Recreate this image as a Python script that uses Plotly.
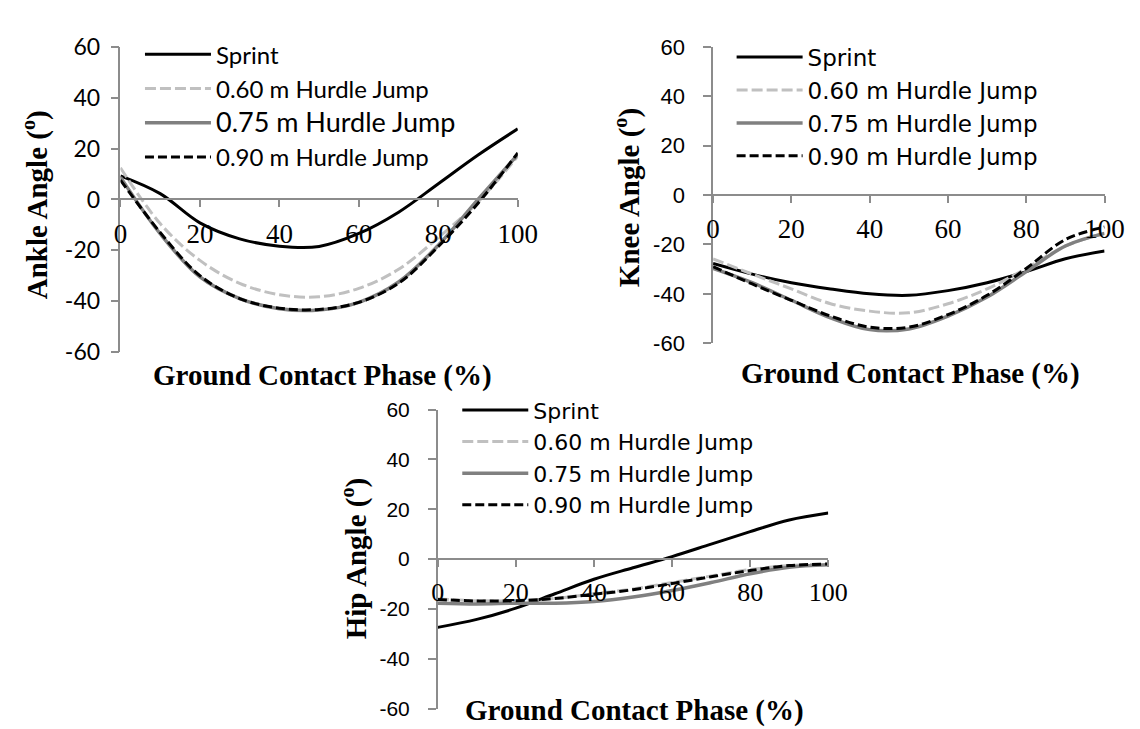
import plotly.graph_objects as go

W, H = 1140, 729

phase = [0, 10, 20, 30, 40, 50, 60, 70, 80, 90, 100]
series_names = ["Sprint", "0.60 m Hurdle Jump", "0.75 m Hurdle Jump", "0.90 m Hurdle Jump"]

ankle_sprint = [9.3, 2.3, -9.2, -15.5, -18.4, -18.5, -13.4, -5, 6.2, 17.5, 27.8]
ankle_h060 = [12.5, -9.5, -24, -33, -37.5, -38.3, -35, -27.5, -15, -1, 17]
ankle_h075 = [8.8, -13.5, -30.5, -39, -43, -43.5, -40.5, -32.5, -18, 0, 17.7]
ankle_h090 = [7.6, -13, -30, -39, -42.8, -43.3, -40.5, -33, -18.5, -1.5, 18.3]

knee_sprint = [-27.7, -32, -35.5, -38, -40, -40.6, -38.7, -35.5, -31, -25.8, -22.6]
knee_h060 = [-25.8, -32, -38, -44, -47, -47.7, -44, -38, -29.7, -20.6, -15.5]
knee_h075 = [-29.7, -35.5, -42.6, -49.7, -54.5, -54.2, -49, -41.3, -31, -20.6, -15.5]
knee_h090 = [-29, -36, -42.6, -49, -53.5, -53.5, -48.4, -40.6, -29.7, -18, -12.9]

hip_sprint = [-27.4, -24.2, -19.7, -13.9, -8.1, -3.5, 1, 6, 11, 15.7, 18.5]
hip_h060 = [-16, -16.7, -16.7, -15.8, -13.9, -12, -9.4, -6.8, -4.2, -2.6, -2]
hip_h075 = [-17.7, -18, -17.7, -17.7, -17, -15.2, -12.6, -9.4, -5.9, -3.3, -2.3]
hip_h090 = [-16.2, -16.8, -16.7, -15.8, -14.1, -12.3, -9.8, -7.1, -4.6, -2.6, -2]

y_ticks = [-60, -40, -20, 0, 20, 40, 60]
y_tick_text = ["-60", "-40", "-20", "0", "20", "40", "60"]
x_ticks = [0, 20, 40, 60, 80, 100]

styles = [
    dict(color="#000000", width=3, dash="solid"),
    dict(color="#c0c0c0", width=3, dash="11px,4px"),
    dict(color="#808080", width=3.5, dash="solid"),
    dict(color="#000000", width=3, dash="9px,4px"),
]

AX = "#8c8c8c"

panels = [
    dict(key="a", data=[ankle_sprint, ankle_h060, ankle_h075, ankle_h090],
         xpx=(108, 515), ypx=(25, 342), title_y="Ankle Angle (<sup>o</sup>)",
         xt=(315, 367), yt=(21, 189), legend="legend", leg=(128, 86),
         lfont=dict(family="Lato", size=24), lgap=0, big=2,
         yfont=dict(family="Lato", size=23), ystand=6, xfs=27),
    dict(key="k", data=[knee_sprint, knee_h060, knee_h075, knee_h090],
         xpx=(715, 1116), ypx=(25, 333), title_y="Knee Angle (<sup>o</sup>)",
         xt=(917, 364), yt=(627, 182), legend="legend2", leg=(734, 87),
         lfont=dict(family="DejaVu Sans", size=23), lgap=0, big=None,
         yfont=dict(family="Liberation Sans", size=22), ystand=14, xfs=27),
    dict(key="h", data=[hip_sprint, hip_h060, hip_h075, hip_h090],
         xpx=(433, 833), ypx=(402, 713), title_y="Hip Angle (<sup>o</sup>)",
         xt=(635, 715), yt=(348, 557), legend="legend3", leg=(453, 452),
         lfont=dict(family="DejaVu Sans", size=22), lgap=0, big=None,
         yfont=dict(family="Liberation Sans", size=21), ystand=14, xfs=26),
]

fig = go.Figure()
annotations = []
for i, p in enumerate(panels):
    sfx = "" if i == 0 else str(i + 1)
    for j, (name, vals) in enumerate(zip(series_names, p["data"])):
        label = name
        if p["big"] == j:
            label = '<span style="font-size:27px">' + name + "</span>"
        fig.add_trace(go.Scatter(
            x=phase, y=vals, mode="lines", name=label,
            line=dict(shape="spline", **styles[j]),
            xaxis="x" + sfx, yaxis="y" + sfx,
            legend=p["legend"], legendgroup=p["key"] + str(j),
        ))
    xd = [p["xpx"][0] / W, p["xpx"][1] / W]
    yd = [1 - p["ypx"][1] / H, 1 - p["ypx"][0] / H]
    fig.layout["xaxis" + sfx] = dict(
        domain=xd, range=[0, 100], anchor="free", position=(yd[0] + yd[1]) / 2,
        tickvals=x_ticks, ticks="outside", ticklen=7, tickcolor=AX, tickwidth=1.5,
        showline=True, linecolor=AX, linewidth=1.5, showgrid=False, zeroline=False,
        tickfont=dict(family="Liberation Serif", size=p["xfs"], color="#000"),
        ticklabelstandoff=3,
    )
    fig.layout["yaxis" + sfx] = dict(
        domain=yd, range=[-60, 60], anchor="x" + sfx,
        tickvals=y_ticks, ticktext=y_tick_text, ticks="outside", ticklen=8,
        tickcolor=AX, tickwidth=1.5,
        showline=True, linecolor=AX, linewidth=1.5, showgrid=False, zeroline=False,
        tickfont=dict(color="#000", **p["yfont"]),
        ticklabelstandoff=p["ystand"],
    )
    fig.layout[p["legend"]] = dict(
        x=p["leg"][0] / W, y=1 - p["leg"][1] / H, xanchor="left", yanchor="middle",
        bgcolor="rgba(0,0,0,0)", borderwidth=0, itemwidth=66,
        font=dict(color="#000", **p["lfont"]),
        traceorder="grouped", tracegroupgap=p["lgap"],
    )
    annotations.append(dict(
        text="<b>Ground Contact Phase (%)</b>", x=p["xt"][0] / W, y=1 - p["xt"][1] / H,
        xref="paper", yref="paper", showarrow=False, xanchor="center", yanchor="middle",
        font=dict(family="Liberation Serif", size=29, color="#000"),
    ))
    annotations.append(dict(
        text="<b>" + p["title_y"] + "</b>", x=p["yt"][0] / W, y=1 - p["yt"][1] / H,
        xref="paper", yref="paper", showarrow=False, xanchor="center", yanchor="middle",
        textangle=-90,
        font=dict(family="Liberation Serif", size=29, color="#000"),
    ))

fig.update_layout(
    width=W, height=H, margin=dict(l=0, r=0, t=0, b=0),
    paper_bgcolor="white", plot_bgcolor="white",
    annotations=annotations, showlegend=True,
)

fig.write_html("out.html")
